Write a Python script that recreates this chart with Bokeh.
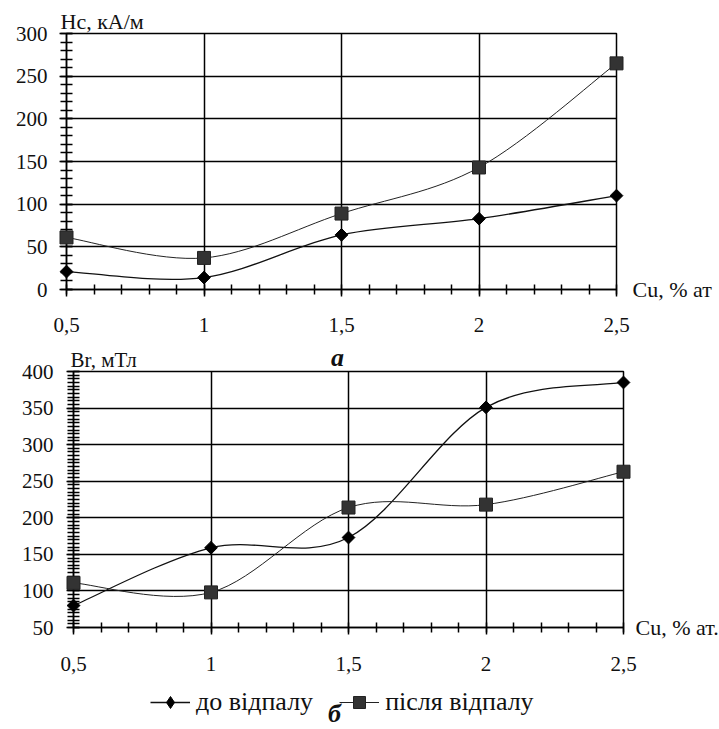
import numpy as np
from bokeh.plotting import figure
from bokeh.layouts import column, row
from bokeh.models import FixedTicker, Legend, LegendItem, Range1d
from bokeh.core.properties import value
from bokeh.embed import file_html
from bokeh.resources import INLINE

# ---------------- data ----------------
cu = [0.5, 1.0, 1.5, 2.0, 2.5]
hc_before = [21, 14, 64, 83, 110]     # Hc, kA/m, до відпалу
hc_after = [61, 37, 89, 143, 265]     # Hc, kA/m, після відпалу
br_before = [80, 159, 173, 351, 385]  # Br, mT, до відпалу
br_after = [111, 98, 214, 218, 263]   # Br, mT, після відпалу

x_ticks = [0.5, 1, 1.5, 2, 2.5]
x_tick_labels = ["0,5", "1", "1,5", "2", "2,5"]
x_minor = [round(0.5 + 0.1 * i, 1) for i in range(21)]
hc_ticks = [0, 50, 100, 150, 200, 250, 300]
hc_minor = list(range(0, 301, 10))
br_ticks = [50, 100, 150, 200, 250, 300, 350, 400]
br_minor = list(range(50, 401, 5))

label_before = "до відпалу"
label_after = "після відпалу"

SERIF = "Liberation Serif"
W = 719
L1, R1 = 66, 103
L2, R2 = 73, 96

BEFORE_STYLE = dict(marker="square", angle=np.pi / 4, size=9,
                    fill_color="black", line_color="black")
BEFORE_LEGEND_STYLE = dict(marker="diamond", size=16, fill_color="black", line_color="black")
AFTER_STYLE = dict(marker="square", size=13, fill_color="#333333", line_color="#222222")
BEFORE_LINE = dict(line_color="#111111", line_width=1.3)
AFTER_LINE = dict(line_color="#222222", line_width=1.0)


def bezier_segments(xs, ys, k=1.0 / 6.0):
    """Catmull-Rom style smoothing (like a spreadsheet 'smoothed line')."""
    n = len(xs)
    out = dict(x0=[], y0=[], x1=[], y1=[], cx0=[], cy0=[], cx1=[], cy1=[])
    for i in range(n - 1):
        xp, yp = (xs[i - 1], ys[i - 1]) if i > 0 else (xs[i], ys[i])
        xn, yn = (xs[i + 2], ys[i + 2]) if i + 2 < n else (xs[i + 1], ys[i + 1])
        out["x0"].append(xs[i]); out["y0"].append(ys[i])
        out["x1"].append(xs[i + 1]); out["y1"].append(ys[i + 1])
        out["cx0"].append(xs[i] + (xs[i + 1] - xp) * k)
        out["cy0"].append(ys[i] + (ys[i + 1] - yp) * k)
        out["cx1"].append(xs[i + 1] - (xn - xs[i]) * k)
        out["cy1"].append(ys[i + 1] - (yn - ys[i]) * k)
    return out


def style(p, yticks, yminor, ystandoff, xstandoff):
    p.background_fill_color = "white"
    p.border_fill_color = "white"
    p.outline_line_color = "black"
    p.outline_line_width = 1.5
    for ax in (p.xaxis[0], p.yaxis[0]):
        ax.axis_line_color = "black"
        ax.axis_line_width = 1.5
        ax.major_tick_line_color = "black"
        ax.major_tick_line_width = 1.5
        ax.minor_tick_line_color = "black"
        ax.minor_tick_line_width = 1.5
        ax.major_label_text_font = SERIF
        ax.major_label_text_font_size = "21px"
        ax.major_label_text_color = "#111111"
    xa = p.xaxis[0]
    xa.ticker = FixedTicker(ticks=x_ticks, minor_ticks=x_minor)
    xa.major_label_overrides = {t: s for t, s in zip(x_ticks, x_tick_labels)}
    xa.major_tick_in = 0
    xa.major_tick_out = 7
    xa.minor_tick_in = 5
    xa.minor_tick_out = 5
    xa.major_label_standoff = xstandoff
    ya = p.yaxis[0]
    ya.ticker = FixedTicker(ticks=yticks, minor_ticks=yminor)
    ya.major_tick_in = 6
    ya.major_tick_out = 7
    ya.minor_tick_in = 6
    ya.minor_tick_out = 6
    ya.major_label_standoff = ystandoff
    p.xgrid.ticker = FixedTicker(ticks=x_ticks)
    p.ygrid.ticker = FixedTicker(ticks=yticks)
    for g in (p.xgrid[0], p.ygrid[0]):
        g.grid_line_color = "black"
        g.grid_line_width = 1.5
        g.grid_line_alpha = 1.0


def add_series(p, ys_before, ys_after):
    p.bezier(**bezier_segments(cu, ys_before), **BEFORE_LINE)
    p.bezier(**bezier_segments(cu, ys_after), **AFTER_LINE)
    p.scatter(cu, ys_before, level="overlay", **BEFORE_STYLE)
    p.scatter(cu, ys_after, level="overlay", **AFTER_STYLE)


def note(p, x, y, text, size, baseline, align="left", xo=0, yo=0, style_="normal"):
    # free text drawn outside the frame (overlay level is not clipped)
    p.text(x=[x], y=[y], text=[text], x_offset=xo, y_offset=yo,
           text_font=value(SERIF), text_font_size=size, text_font_style=style_,
           text_baseline=baseline, text_align=align, text_color="#111111",
           level="overlay")


# ---------------- top chart (Hc) ----------------
p1 = figure(width=W, height=341, x_range=Range1d(0.5, 2.5), y_range=Range1d(0, 300),
            output_backend="svg", toolbar_location=None,
            min_border_left=L1, min_border_right=R1, min_border_top=33, min_border_bottom=52)
style(p1, hc_ticks, hc_minor, 12, 21)
add_series(p1, hc_before, hc_after)
note(p1, 0.5, 300, "Hc, кА/м", "22px", "bottom", xo=-6)
note(p1, 2.5, 0, "Cu, % ат", "22px", "middle", xo=16)

# ---------------- bottom chart (Br) ----------------
p2 = figure(width=W, height=339, x_range=Range1d(0.5, 2.5), y_range=Range1d(50, 400),
            output_backend="svg", toolbar_location=None,
            min_border_left=L2, min_border_right=R2, min_border_top=30,
            min_border_bottom=53)
style(p2, br_ticks, br_minor, 13, 22)
add_series(p2, br_before, br_after)
note(p2, 0.5, 400, "Br, мТл", "21px", "bottom", xo=-3)
note(p2, 2.5, 50, "Cu, % ат.", "22px", "middle", xo=12)
note(p2, 1.5, 400, "а", "26px", "middle", "center", xo=-11, yo=-14, style_="bold italic")

# ---------------- legend strip (same horizontal frame as the Br chart) ----------------
p3 = figure(width=W, height=49, x_range=Range1d(0.5, 2.5), y_range=Range1d(0, 1),
            output_backend="svg", toolbar_location=None,
            x_axis_location=None, y_axis_location=None,
            min_border_left=L2, min_border_right=R2, min_border_top=0, min_border_bottom=0,
            outline_line_color=None)
p3.grid.visible = False
p3.background_fill_color = "white"
p3.border_fill_color = "white"
# same series (they fall outside this strip's y range, so only their legend samples show)
lb3 = p3.line(cu, br_before, **BEFORE_LINE)
sb3 = p3.scatter(cu, br_before, **BEFORE_LEGEND_STYLE)
la3 = p3.line(cu, br_after, **AFTER_LINE)
sa3 = p3.scatter(cu, br_after, **AFTER_STYLE)
note(p3, 1.5, 1, "б", "26px", "top", "center", xo=-14, yo=18, style_="bold italic")

legend = Legend(items=[LegendItem(label=label_before, renderers=[lb3, sb3]),
                       LegendItem(label=label_after, renderers=[la3, sa3])],
                orientation="horizontal", location=(77, 12),
                label_text_font="'Liberation Serif'", label_text_font_size="26px",
                label_text_color="#111111",
                glyph_width=40, glyph_height=30, label_standoff=6, spacing=26,
                padding=0, margin=0, border_line_color=None,
                background_fill_alpha=0.0)
p3.add_layout(legend, "center")

layout = column(row(p1), row(p2), row(p3), spacing=0)
open("out.html", "w").write(file_html(layout, INLINE))
